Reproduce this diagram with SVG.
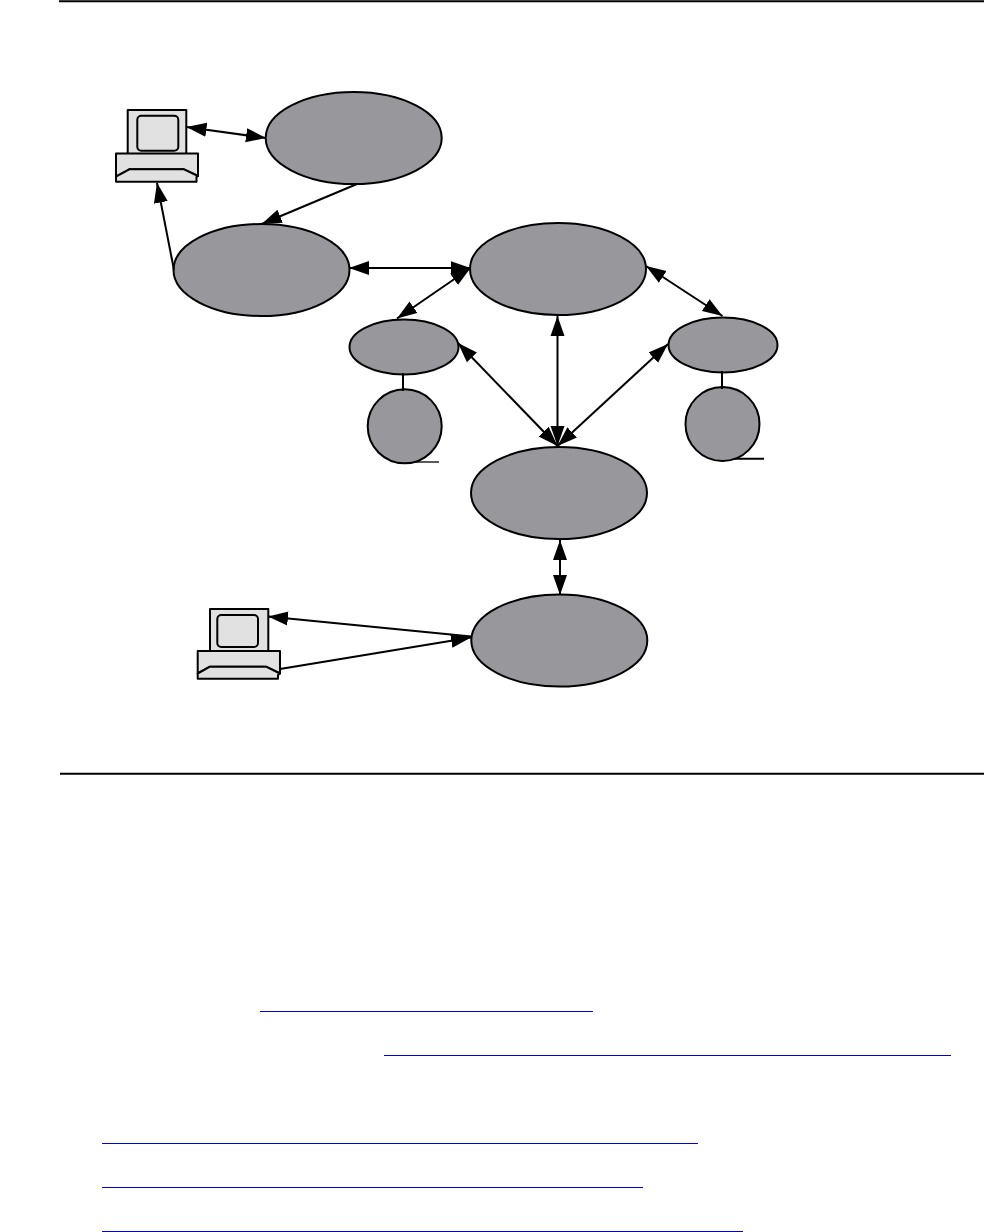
<svg xmlns="http://www.w3.org/2000/svg" width="984" height="1232" viewBox="0 0 984 1232">
<style>
.n{fill:#98979c;stroke:#000;stroke-width:2}
.c{fill:#e1e1e1;stroke:#000;stroke-width:2;stroke-linejoin:round}
.l{fill:none;stroke:#000;stroke-width:2}
.t{fill:none;stroke:#000;stroke-width:1.3}
.r{fill:none;stroke:#0000dd;stroke-width:1;shape-rendering:crispEdges}
</style>
<defs>
<marker id="a" markerUnits="userSpaceOnUse" markerWidth="22" markerHeight="16" refX="20" refY="7.500" orient="auto-start-reverse"><path d="M0 .5L20 7.500L0 14.500Z" fill="#000"/></marker>
</defs>
<rect width="984" height="1232" fill="#fff"/>
<g id="rules">
<path class="l" d="M59 1.200H984M60 773.700H984"/>
<path class="r" d="M260 1011.500H593M384 1055.500H951M102 1143.500H698M102 1187.500H643M102 1231.500H743"/>
</g>
<g id="pc1">
<rect class="c" x="127.700" y="110" width="58.600" height="44"/>
<rect class="c" x="137.300" y="115.800" width="41" height="35" rx="4"/>
<path class="c" d="M116 153.500H198V176L184 169.300H129.300L116 176.700Z"/>
<path class="c" d="M116 176.700L129.300 169.300H184L198 176L196.500 177V181.700H116Z"/>
</g>
<g id="pc2">
<rect class="c" x="210" y="609" width="58.300" height="42.500"/>
<rect class="c" x="217.300" y="615" width="40.700" height="32" rx="4"/>
<path class="c" d="M197.700 651H280V673.500L266 666.700H210L197.700 673.500Z"/>
<path class="c" d="M197.700 673.500L210 666.700H266L280 673.500L278 675V678.700H197.700Z"/>
</g>
<g id="e1"><ellipse class="n" cx="353.700" cy="138" rx="88" ry="46"/></g>
<g id="e2"><ellipse class="n" cx="261.500" cy="270" rx="88" ry="46"/></g>
<g id="e3"><ellipse class="n" cx="558" cy="269" rx="88" ry="46"/></g>
<g id="e4"><ellipse class="n" cx="404" cy="347" rx="54.500" ry="27.500"/></g>
<g id="e5"><ellipse class="n" cx="723" cy="345" rx="54.500" ry="27.500"/></g>
<g id="c1"><path class="t" d="M412 462H439"/><ellipse class="n" cx="404.700" cy="426.300" rx="37" ry="37"/></g>
<g id="c2"><path class="l" d="M730 458.800H764"/><ellipse class="n" cx="722.500" cy="424" rx="37" ry="37"/></g>
<g id="e6"><ellipse class="n" cx="559" cy="493" rx="88" ry="46"/></g>
<g id="e7"><ellipse class="n" cx="559.300" cy="640.500" rx="88" ry="46"/></g>
<g id="connectors">
<path class="l" d="M186.500 127L266 138" marker-start="url(#a)" marker-end="url(#a)"/>
<path class="l" d="M357 184L261.700 224" marker-end="url(#a)"/>
<path class="l" d="M174 270L157 182.700" marker-end="url(#a)"/>
<path class="l" d="M349 268H470.500" marker-start="url(#a)" marker-end="url(#a)"/>
<path class="l" d="M470.500 268L397 318.500" marker-end="url(#a)" marker-start="url(#a)"/>
<path class="l" d="M646 266L722.500 316" marker-start="url(#a)" marker-end="url(#a)"/>
<path class="l" d="M557.500 316V446" marker-start="url(#a)" marker-end="url(#a)"/>
<path class="l" d="M458 343L557.500 446" marker-start="url(#a)" marker-end="url(#a)"/>
<path class="l" d="M668 344L557.500 446" marker-start="url(#a)" marker-end="url(#a)"/>
<path class="l" d="M403 373V391M722 371V389"/>
<path class="l" d="M560 540V595" marker-start="url(#a)" marker-end="url(#a)"/>
<path class="l" d="M471 636.500L268 616.500" marker-end="url(#a)"/>
<path class="l" d="M280 669L471 637.500" marker-end="url(#a)"/>
</g>
</svg>
